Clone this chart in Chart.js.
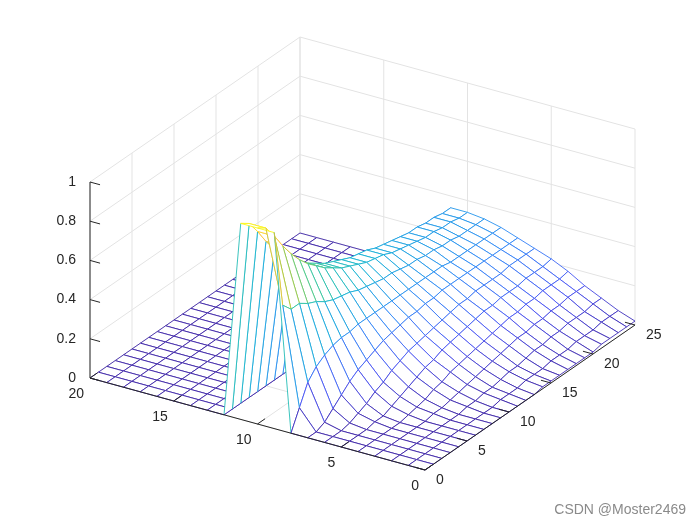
<!DOCTYPE html>
<html>
<head>
<meta charset="utf-8">
<script src="https://cdn.jsdelivr.net/npm/chart.js@4"></script>
<style>
  html, body { margin: 0; padding: 0; background: #fff; }
  #wrap { width: 700px; height: 525px; position: relative; }
</style>
</head>
<body>
<div id="wrap"><canvas id="c"></canvas></div>
<script>
// ejes del mesh
const lVals = [0,1,2,3,4,5,6,7,8,9,10,11,12,13,14,15,16,17,18,19,20];
const rVals = [0,1,2,3,4,5,6,7,8,9,10,11,12,13,14,15,16,17,18,19,20,21,22,23,24,25];
const lTicks = [0,5,10,15,20];
const rTicks = [0,5,10,15,20,25];
const zTicks = [0,0.2,0.4,0.6,0.8,1];

// valores z por fila (R), para L = 0..11; L >= 12 vale 0
const zRows = [
  [0,0,0,0,0,0,0,0,0,1,1,1],
  [0,0,0,0,0,0,0,0,.1,.6,.97,.97],
  [0,0,0,0,0,0,0,.02,.2,.55,.9,.9],
  [0,0,0,0,0,0,.01,.06,.25,.55,.82,.82],
  [0,0,0,0,0,.01,.03,.1,.28,.52,.75,.75],
  [0,0,0,0,0,.01,.05,.14,.3,.5,.69,.69],
  [0,0,0,0,.01,.03,.08,.17,.31,.47,.64,.64],
  [0,0,0,.01,.02,.05,.1,.19,.31,.45,.6,.6],
  [0,0,0,.01,.03,.07,.13,.21,.32,.44,.56,.56],
  [0,0,.01,.02,.05,.09,.15,.23,.32,.43,.53,.53],
  [0,0,.01,.03,.06,.11,.17,.24,.32,.41,.5,.5],
  [0,.01,.02,.04,.08,.12,.18,.25,.32,.4,.48,.48],
  [0,.01,.02,.05,.09,.14,.19,.26,.32,.39,.46,.46],
  [0,.01,.03,.06,.1,.15,.2,.26,.32,.38,.44,.44],
  [.01,.02,.04,.07,.11,.16,.21,.27,.32,.38,.43,.43],
  [.01,.02,.04,.08,.12,.17,.22,.27,.32,.37,.42,.42],
  [.01,.02,.05,.09,.13,.18,.23,.28,.32,.36,.4,.4],
  [.01,.03,.06,.1,.14,.19,.23,.28,.32,.36,.39,.39],
  [.01,.03,.06,.1,.15,.19,.24,.28,.32,.35,.38,.38],
  [.01,.03,.07,.11,.15,.2,.24,.28,.31,.35,.37,.37],
  [.01,.04,.07,.11,.16,.2,.24,.28,.31,.34,.36,.36],
  [.02,.04,.08,.12,.16,.2,.24,.28,.31,.34,.36,.36],
  [.02,.04,.08,.12,.17,.21,.25,.28,.31,.33,.35,.35],
  [.02,.05,.08,.13,.17,.21,.25,.28,.31,.33,.35,.35],
  [.02,.05,.09,.13,.17,.21,.25,.28,.31,.33,.34,.34],
  [.02,.05,.09,.13,.18,.22,.25,.28,.31,.33,.34,.34]
];

function zAt(ri, li) {
  const row = zRows[ri];
  return li < row.length ? row[li] : 0;
}

// proyección 3D -> plano de la vista
function proj(L, R, z) {
  return { x: 425 - 16.75 * L + 8.4 * R, y: 470 - 4.6 * L - 5.8 * R - 196 * z };
}

// mapa de color parula (8 muestras)
const parula = [
  [62,38,168],[72,82,244],[46,135,247],[18,177,214],
  [55,200,151],[171,199,57],[254,195,56],[249,251,21]
];
function colorFor(z) {
  const t = Math.max(0, Math.min(1, z)) * (parula.length - 1);
  const i = Math.min(parula.length - 2, Math.floor(t));
  const f = t - i;
  const a = parula[i], b = parula[i+1];
  const c = a.map((v,k) => Math.round(v + (b[k]-v)*f));
  return `rgb(${c[0]},${c[1]},${c[2]})`;
}

const points = [];
rVals.forEach((R, ri) => lVals.forEach((L, li) => points.push(proj(L, R, zAt(ri, li)))));

const meshPlugin = {
  id: 'mesh3d',
  beforeDatasetsDraw(chart) {
    const ctx = chart.ctx;
    const sx = chart.scales.x, sy = chart.scales.y;
    const P = (L, R, z) => { const p = proj(L, R, z); return [sx.getPixelForValue(p.x), sy.getPixelForValue(p.y)]; };
    const line = (a, b, color, w) => {
      ctx.beginPath(); ctx.moveTo(a[0], a[1]); ctx.lineTo(b[0], b[1]);
      ctx.strokeStyle = color; ctx.lineWidth = w || 1; ctx.stroke();
    };
    ctx.save();
    const grid = '#e3e3e3';
    // pared L=20
    zTicks.forEach(z => line(P(20,0,z), P(20,25,z), grid));
    rTicks.forEach(R => line(P(20,R,0), P(20,R,1), grid));
    // pared R=25
    zTicks.forEach(z => line(P(0,25,z), P(20,25,z), grid));
    lTicks.forEach(L => line(P(L,25,0), P(L,25,1), grid));
    // suelo
    lTicks.forEach(L => line(P(L,0,0), P(L,25,0), grid));
    rTicks.forEach(R => line(P(0,R,0), P(20,R,0), grid));

    // celdas de atrás hacia delante
    const quads = [];
    for (let ri = 0; ri < rVals.length - 1; ri++)
      for (let li = 0; li < lVals.length - 1; li++)
        quads.push({ ri, li, d: lVals[li] * 4.6 + rVals[ri] * 5.8 });
    quads.sort((a, b) => b.d - a.d);
    quads.forEach(q => {
      const c = [[q.ri,q.li],[q.ri,q.li+1],[q.ri+1,q.li+1],[q.ri+1,q.li]];
      const pts = c.map(([r,l]) => P(lVals[l], rVals[r], zAt(r,l)));
      const zs = c.map(([r,l]) => zAt(r,l));
      ctx.beginPath();
      pts.forEach((p,i) => i ? ctx.lineTo(p[0],p[1]) : ctx.moveTo(p[0],p[1]));
      ctx.closePath();
      ctx.fillStyle = '#fff'; ctx.fill();
      for (let i = 0; i < 4; i++) {
        const j = (i + 1) % 4;
        line(pts[i], pts[j], colorFor((zs[i] + zs[j]) / 2), 0.9);
      }
    });

    // ejes
    const ax = '#262626';
    line(P(20,0,0), P(0,0,0), ax);
    line(P(0,0,0), P(0,25,0), ax);
    line(P(20,0,0), P(20,0,1), ax);
    ctx.fillStyle = ax;
    ctx.font = '14px "Liberation Sans", Arial, sans-serif';
    lTicks.forEach(L => {
      const a = P(L,0,0), b = P(L,0.9,0);
      line(a, b, ax);
      ctx.textAlign = 'right'; ctx.textBaseline = 'top';
      ctx.fillText(String(L), a[0] - 6, a[1] + 9);
    });
    rTicks.forEach(R => {
      const a = P(0,R,0), b = P(0.6,R,0);
      line(a, b, ax);
      ctx.textAlign = 'left'; ctx.textBaseline = 'top';
      ctx.fillText(String(R), a[0] + 11, a[1] + 3);
    });
    zTicks.forEach(z => {
      const a = P(20,0,z), b = P(19.4,0,z);
      line(a, b, ax);
      ctx.textAlign = 'right'; ctx.textBaseline = 'middle';
      ctx.fillText(String(z), a[0] - 14, a[1]);
    });
    ctx.fillStyle = '#8a8a8a';
    ctx.textAlign = 'right'; ctx.textBaseline = 'alphabetic';
    ctx.fillText('CSDN @Moster2469', 686, 514);
    ctx.restore();
  }
};

new Chart(document.getElementById('c'), {
  type: 'scatter',
  data: { datasets: [{ data: points, pointRadius: 0, showLine: false }] },
  options: {
    responsive: true,
    maintainAspectRatio: false,
    animation: false,
    layout: { padding: 0 },
    plugins: { legend: { display: false }, tooltip: { enabled: false } },
    scales: {
      x: { type: 'linear', min: 0, max: 700, display: false },
      y: { type: 'linear', min: 0, max: 525, reverse: true, display: false }
    }
  },
  plugins: [meshPlugin]
});
</script>
</body>
</html>
